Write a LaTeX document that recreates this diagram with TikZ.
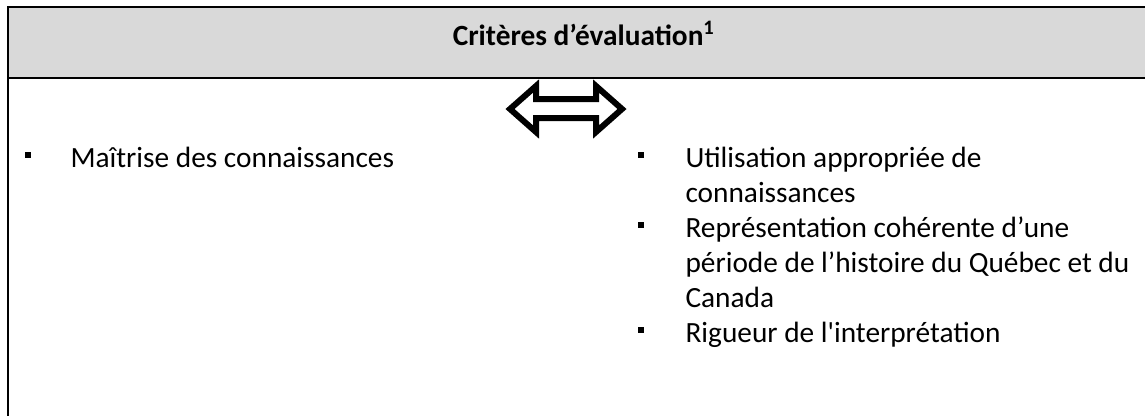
\documentclass[tikz,border=0pt]{standalone}
\usepackage{fontspec}
\setmainfont{Carlito}
\usepackage{xcolor}
\usetikzlibrary{positioning}
\definecolor{entete}{HTML}{D9D9D9}

\begin{document}
\begin{tikzpicture}[
  x=0.375pt, y=-0.375pt,
  every node/.style={font=\fontsize{11pt}{13.1pt}\selectfont, inner sep=0pt},
  cadre/.style={line width=0.85pt, black, line join=miter},
  puce/.style={rectangle, fill=black, minimum size=2.5pt},
  critere/.style={align=left, anchor=base west},
  fleche/.style={line width=2.25pt, line join=miter, black}
]
\useasboundingbox (0,0) rectangle (1145,416);

% === EN-TETE ===
\fill[entete] (8,7) rectangle (1145,78);
\draw[cadre] (1145,7) -- (8,7) -- (8,416);
\draw[cadre] (8,78) -- (1145,78);
\node[anchor=base, font=\fontsize{11pt}{13.1pt}\selectfont\bfseries] (titre) at (584,45) {Critères d’évaluation\textsuperscript{1}};

% === FLECHE DOUBLE ===
\draw[fleche] (510,109) -- (536,86) -- (536,99) -- (596,99) -- (596,86) -- (622,109)
  -- (596,132) -- (596,118) -- (536,118) -- (536,132) -- cycle;

% === COLONNE GAUCHE ===
\node[puce] (p1) at (28,155) {};
\node[critere] (c1) at (70,167) {Maîtrise des connaissances};

% === COLONNE DROITE ===
% (base = ligne du bas de chaque texte)
\node[puce] (p2) at (641,155) {};
\node[critere] (c2) at (685,202) {Utilisation appropriée de\\connaissances};
\node[puce] (p3) at (641,225) {};
\node[critere] (c3) at (685,307) {Représentation cohérente d’une\\période de l’histoire du Québec et du\\Canada};
\node[puce] (p4) at (641,330) {};
\node[critere] (c4) at (685,342) {Rigueur de l\textquotesingle interprétation};

\end{tikzpicture}
\end{document}
